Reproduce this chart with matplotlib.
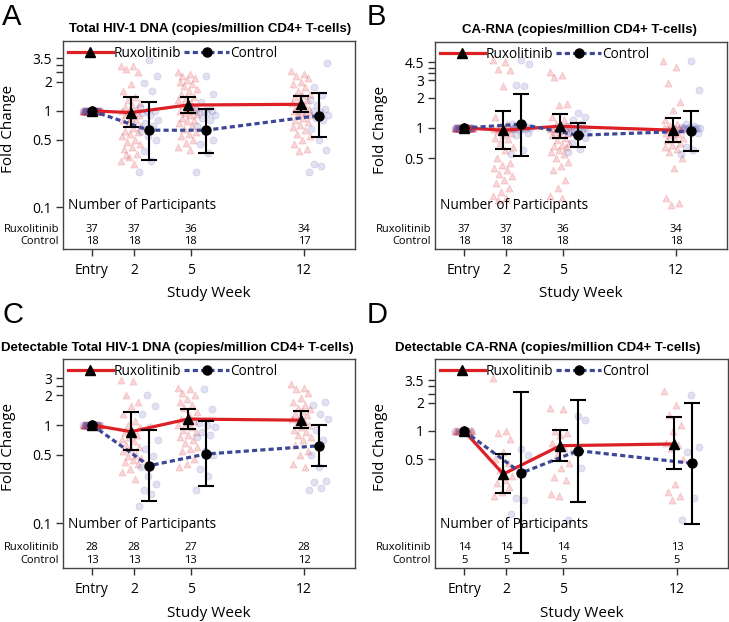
import matplotlib.pyplot as plt
import matplotlib.transforms as mtransforms
import numpy as np
from matplotlib.lines import Line2D

plt.rcParams['font.family'] = ['Open Sans', 'DejaVu Sans']

visits = ['Entry', '2', '5', '12']
visit_pos = [0, 2, 4.7, 10.1]

# ---- panel A: total HIV-1 DNA
a_title = 'Total HIV-1 DNA (copies/million CD4+ T-cells)'
a_rux_mean = [1.0, 0.96, 1.15, 1.17]
a_rux_lo = [1.0, 0.68, 0.96, 0.98]
a_rux_hi = [1.0, 1.40, 1.40, 1.41]
a_ctl_mean = [1.0, 0.63, 0.63, 0.895]
a_ctl_lo = [1.0, 0.31, 0.37, 0.53]
a_ctl_hi = [1.0, 1.24, 1.05, 1.52]
a_rux_n = [37, 37, 36, 34]
a_ctl_n = [18, 18, 18, 17]
a_rux_pts = [
    [1.0] * 37,
    [2.9, 2.9, 2.7, 2.5, 1.9, 1.6, 1.4, 1.3, 1.2, 1.15, 1.1, 1.05, 1.0, 1.0, 0.95, 0.92, 0.9, 0.85, 0.8,
     0.8, 0.75, 0.7, 0.67, 0.62, 0.6, 0.57, 0.55, 0.5, 0.48, 0.45, 0.42, 0.4, 0.36, 0.33, 0.3, 0.28, 0.35],
    [2.5, 2.4, 2.3, 2.2, 2.1, 2.0, 1.9, 1.8, 1.7, 1.6, 1.5, 1.4, 1.35, 1.3, 1.2, 1.15, 1.1, 1.05, 1.0, 1.0,
     0.95, 0.92, 0.9, 0.85, 0.8, 0.78, 0.75, 0.7, 0.65, 0.6, 0.57, 0.55, 0.5, 0.46, 0.42, 0.39],
    [2.6, 2.4, 2.3, 2.2, 2.0, 1.9, 1.75, 1.6, 1.5, 1.45, 1.4, 1.3, 1.25, 1.2, 1.15, 1.1, 1.05, 1.0, 1.0,
     0.97, 0.93, 0.9, 0.85, 0.8, 0.76, 0.72, 0.68, 0.63, 0.58, 0.55, 0.5, 0.45, 0.4, 0.38],
]
a_ctl_pts = [
    [1.0] * 18,
    [3.4, 2.3, 1.95, 1.6, 1.1, 1.0, 1.0, 0.95, 0.9, 0.8, 0.75, 0.7, 0.62, 0.55, 0.5, 0.38, 0.3, 0.23],
    [2.3, 1.5, 1.25, 1.1, 1.05, 1.0, 1.0, 0.97, 0.95, 0.9, 0.85, 0.8, 0.7, 0.6, 0.5, 0.45, 0.37, 0.23],
    [3.1, 1.75, 1.45, 1.3, 1.15, 1.05, 1.0, 0.97, 0.9, 0.85, 0.8, 0.65, 0.5, 0.39, 0.28, 0.27, 0.23],
]

# ---- panel B: CA-RNA
b_title = 'CA-RNA (copies/million CD4+ T-cells)'
b_rux_mean = [1.0, 0.95, 1.04, 0.95]
b_rux_lo = [1.0, 0.62, 0.80, 0.72]
b_rux_hi = [1.0, 1.48, 1.37, 1.27]
b_ctl_mean = [1.0, 1.09, 0.845, 0.93]
b_ctl_lo = [1.0, 0.53, 0.64, 0.59]
b_ctl_hi = [1.0, 2.17, 1.13, 1.48]
b_rux_n = [37, 37, 36, 34]
b_ctl_n = [18, 18, 18, 18]
b_rux_pts = [
    [1.0] * 37,
    [4.8, 4.6, 3.9, 3.8, 2.6, 1.3, 1.1, 1.05, 1.0, 1.0, 1.0, 1.0, 0.98, 0.97, 0.95, 0.93, 0.9, 0.85, 0.8,
     0.78, 0.7, 0.65, 0.6, 0.5, 0.45, 0.43, 0.4, 0.38, 0.35, 0.33, 0.3, 0.28, 0.25, 0.23, 0.21, 0.2, 0.19],
    [3.6, 3.4, 3.2, 1.75, 1.7, 1.3, 1.2, 1.1, 1.05, 1.0, 1.0, 1.0, 1.0, 0.98, 0.95, 0.92, 0.9, 0.88, 0.85,
     0.8, 0.75, 0.7, 0.68, 0.66, 0.64, 0.6, 0.57, 0.55, 0.5, 0.46, 0.42, 0.38, 0.3, 0.25, 0.21, 0.2],
    [4.7, 4.1, 2.8, 1.8, 1.5, 1.2, 1.1, 1.05, 1.0, 1.0, 1.0, 1.0, 1.0, 1.0, 0.98, 0.97, 0.95, 0.93, 0.9,
     0.88, 0.85, 0.8, 0.78, 0.75, 0.7, 0.68, 0.65, 0.62, 0.58, 0.5, 0.4, 0.2, 0.18, 0.17],
]
b_ctl_pts = [
    [1.0] * 18,
    [4.75, 4.3, 2.7, 2.6, 1.1, 1.05, 1.02, 1.0, 1.0, 1.0, 1.0, 0.98, 0.97, 0.95, 0.9, 0.85, 0.6, 0.55],
    [1.4, 1.3, 1.2, 1.1, 1.05, 1.0, 1.0, 1.0, 1.0, 0.98, 0.95, 0.92, 0.9, 0.85, 0.8, 0.7, 0.62, 0.58],
    [4.7, 2.4, 1.1, 1.05, 1.02, 1.0, 1.0, 1.0, 1.0, 1.0, 1.0, 0.98, 0.97, 0.95, 0.9, 0.65, 0.6, 0.55],
]

# ---- panel C: detectable total HIV-1 DNA
c_title = 'Detectable Total HIV-1 DNA (copies/million CD4+ T-cells)'
c_rux_mean = [1.0, 0.855, 1.15, 1.12]
c_rux_lo = [1.0, 0.56, 0.91, 0.93]
c_rux_hi = [1.0, 1.37, 1.46, 1.38]
c_ctl_mean = [1.0, 0.385, 0.506, 0.615]
c_ctl_lo = [1.0, 0.17, 0.24, 0.38]
c_ctl_hi = [1.0, 0.89, 1.09, 1.0]
c_rux_n = [28, 28, 27, 28]
c_ctl_n = [13, 13, 13, 12]
c_rux_pts = [
    [1.0] * 28,
    [2.9, 2.8, 2.0, 1.7, 1.55, 1.3, 1.1, 1.0, 0.95, 0.9, 0.85, 0.8, 0.75, 0.72, 0.68, 0.63, 0.6, 0.57,
     0.54, 0.5, 0.48, 0.46, 0.44, 0.42, 0.4, 0.36, 0.33, 0.28],
    [2.4, 2.3, 2.1, 2.0, 1.85, 1.7, 1.6, 1.5, 1.35, 1.25, 1.15, 1.1, 1.05, 1.0, 0.95, 0.9, 0.85, 0.8,
     0.75, 0.7, 0.65, 0.6, 0.57, 0.55, 0.45, 0.4, 0.37],
    [2.6, 2.4, 2.35, 2.1, 1.9, 1.7, 1.6, 1.5, 1.45, 1.4, 1.3, 1.25, 1.2, 1.15, 1.1, 1.05, 1.0, 0.95,
     0.9, 0.85, 0.8, 0.75, 0.7, 0.62, 0.55, 0.5, 0.4, 0.37],
]
c_ctl_pts = [
    [1.0] * 13,
    [2.0, 1.55, 1.3, 0.95, 0.7, 0.57, 0.48, 0.37, 0.3, 0.25, 0.22, 0.2, 0.15],
    [2.3, 1.45, 1.05, 1.0, 0.95, 0.85, 0.8, 0.75, 0.55, 0.5, 0.36, 0.3, 0.22],
    [1.7, 1.6, 1.3, 1.15, 0.9, 0.7, 0.5, 0.37, 0.27, 0.26, 0.23, 0.22],
]

# ---- panel D: detectable CA-RNA
d_title = 'Detectable CA-RNA (copies/million CD4+ T-cells)'
d_rux_mean = [1.0, 0.345, 0.695, 0.725]
d_rux_lo = [1.0, 0.214, 0.48, 0.39]
d_rux_hi = [1.0, 0.566, 1.03, 1.40]
d_ctl_mean = [1.0, 0.354, 0.615, 0.45]
d_ctl_lo = [1.0, 0.049, 0.175, 0.10]
d_ctl_hi = [1.0, 2.60, 2.17, 2.0]
d_rux_n = [14, 14, 14, 13]
d_ctl_n = [5, 5, 5, 5]
d_rux_pts = [
    [1.0] * 14,
    [3.7, 1.0, 0.95, 0.82, 0.6, 0.5, 0.45, 0.38, 0.33, 0.3, 0.28, 0.25, 0.22, 0.2],
    [1.75, 1.7, 1.0, 0.95, 0.9, 0.75, 0.65, 0.55, 0.45, 0.4, 0.32, 0.3, 0.2, 0.21],
    [2.7, 1.9, 1.5, 1.15, 1.0, 0.75, 0.7, 0.66, 0.5, 0.27, 0.22, 0.2, 0.18],
]
d_ctl_pts = [
    [1.0] * 5,
    [0.64, 0.55, 0.19, 0.18, 0.13],
    [1.45, 1.3, 0.6, 0.4, 0.11],
    [2.4, 0.67, 0.6, 0.19, 0.11],
]

RED = '#dc2026'
BLUE = '#3c4896'


def jitter(n, half):
    return ((np.arange(n) * 0.618034) % 1 - 0.5) * 2 * half


def draw_panel(ax, title, tx, rux_mean, rux_lo, rux_hi, ctl_mean, ctl_lo, ctl_hi,
               rux_n, ctl_n, rux_pts, ctl_pts, ylim, yticks, yminor):
    xr = [p - 0.14 if i > 0 else p for i, p in enumerate(visit_pos)]
    xc = [p + 0.71 if i > 0 else p for i, p in enumerate(visit_pos)]
    for i in range(4):
        half = 0.43 if i == 0 else 0.48
        ax.scatter(xr[i] + jitter(len(rux_pts[i]), half), rux_pts[i], marker='^', s=26,
                   color=RED, alpha=0.18, linewidths=0.6, zorder=1)
        ax.scatter(xc[i] + jitter(len(ctl_pts[i]), half)[::-1], ctl_pts[i], marker='o', s=26,
                   color='#5a5ab8', alpha=0.18, linewidths=0.6, zorder=1)
    ax.plot(xr, rux_mean, color=RED, lw=2.3, zorder=3)
    ax.plot(xc, ctl_mean, color=BLUE, lw=2.3, dashes=(1.6, 1.0), zorder=3)
    rm, cm = np.array(rux_mean[1:]), np.array(ctl_mean[1:])
    ax.errorbar(xr[1:], rm, yerr=[rm - np.array(rux_lo[1:]), np.array(rux_hi[1:]) - rm],
                fmt='none', ecolor='black', elinewidth=1.5, capsize=6, capthick=1.5, zorder=4)
    ax.errorbar(xc[1:], cm, yerr=[cm - np.array(ctl_lo[1:]), np.array(ctl_hi[1:]) - cm],
                fmt='none', ecolor='black', elinewidth=1.5, capsize=6, capthick=1.5, zorder=4)
    ax.plot(xc, ctl_mean, 'o', color='black', ms=6.5, zorder=5)
    ax.plot(xr, rux_mean, '^', color='black', ms=7, zorder=5)

    ax.set_yscale('log')
    ax.set_ylim(*ylim)
    ax.set_xlim(-1.38, 12.52)
    ax.set_yticks(yticks)
    ax.set_yticklabels([('%g' % t) for t in yticks])
    ax.set_yticks(yminor, minor=True)
    ax.set_yticklabels([], minor=True)
    ax.set_xticks(visit_pos)
    ax.set_xticklabels(visits)
    ax.tick_params(axis='both', which='both', direction='out', length=5, width=1,
                   color='#333333', labelsize=10, pad=3)
    ax.tick_params(axis='x', pad=5)
    for s in ax.spines.values():
        s.set_color('#444444')
        s.set_linewidth(1.0)

    ax.set_ylabel('Fold Change', fontsize=11)
    ax.yaxis.set_label_coords(-0.16, 0.577)
    ax.set_xlabel('Study Week', fontsize=11)
    ax.xaxis.label.set_va('center')
    ax.xaxis.set_label_coords(0.5, -0.216)

    trans = mtransforms.blended_transform_factory(ax.transData, ax.transAxes)
    ax.text(0.017, 0.21, 'Number of Participants', transform=ax.transAxes,
            ha='left', va='center', fontsize=9.8)
    ax.text(-0.014, 0.096, 'Ruxolitinib', transform=ax.transAxes, ha='right', va='center', fontsize=8)
    ax.text(-0.014, 0.034, 'Control', transform=ax.transAxes, ha='right', va='center', fontsize=8)
    for p, nr, nc in zip(visit_pos, rux_n, ctl_n):
        ax.text(p, 0.096, str(nr), transform=trans, ha='center', va='center', fontsize=8)
        ax.text(p, 0.034, str(nc), transform=trans, ha='center', va='center', fontsize=8)

    handles = [Line2D([], [], color=RED, lw=2.3, marker='^', mfc='black', mec='black', ms=7),
               Line2D([], [], color=BLUE, lw=2.3, dashes=(1.6, 1.0), marker='o',
                      mfc='black', mec='black', ms=6.5)]
    ax.legend(handles, ['Ruxolitinib', 'Control'], loc='upper left', ncol=2, frameon=False,
              fontsize=9.8, handlelength=3.3, handletextpad=0.1, columnspacing=0.2,
              borderaxespad=0.25, borderpad=0.1)

    fig.text(tx[0] / 729, 1 - tx[1] / 622, title, ha='center', va='center',
             fontsize=9.5, fontweight='bold', family='Liberation Sans')


fig = plt.figure(figsize=(7.29, 6.22), dpi=100)
axA = fig.add_axes([63 / 729, 1 - 249 / 622, 292 / 729, 208 / 622])
axB = fig.add_axes([435 / 729, 1 - 249 / 622, 292 / 729, 207 / 622])
axC = fig.add_axes([63 / 729, 1 - 568 / 622, 292 / 729, 209 / 622])
axD = fig.add_axes([435 / 729, 1 - 568 / 622, 293 / 729, 209 / 622])

draw_panel(axA, a_title, (210, 29), a_rux_mean, a_rux_lo, a_rux_hi, a_ctl_mean, a_ctl_lo, a_ctl_hi,
           a_rux_n, a_ctl_n, a_rux_pts, a_ctl_pts, (0.037, 5.3), [0.1, 0.5, 1, 2, 3.5], [2.5, 3])
draw_panel(axB, b_title, (579, 30), b_rux_mean, b_rux_lo, b_rux_hi, b_ctl_mean, b_ctl_lo, b_ctl_hi,
           b_rux_n, b_ctl_n, b_rux_pts, b_ctl_pts, (0.062, 7.2), [0.5, 1, 2, 3, 4.5], [3.5, 4])
draw_panel(axC, c_title, (177, 348), c_rux_mean, c_rux_lo, c_rux_hi, c_ctl_mean, c_ctl_lo, c_ctl_hi,
           c_rux_n, c_ctl_n, c_rux_pts, c_ctl_pts, (0.035, 4.7), [0.1, 0.5, 1, 2, 3], [2.5])
draw_panel(axD, d_title, (548, 348), d_rux_mean, d_rux_lo, d_rux_hi, d_ctl_mean, d_ctl_lo, d_ctl_hi,
           d_rux_n, d_ctl_n, d_rux_pts, d_ctl_pts, (0.034, 5.9), [0.5, 1, 2, 3.5], [2.5, 3])

for lab, x, y in [('A', 2, 3), ('B', 367, 3), ('C', 2, 301), ('D', 367, 301)]:
    fig.text(x / 729, 1 - y / 622, lab, ha='left', va='top', fontsize=21, family='Liberation Sans')

fig.savefig('out.png', dpi=100, facecolor='white')
